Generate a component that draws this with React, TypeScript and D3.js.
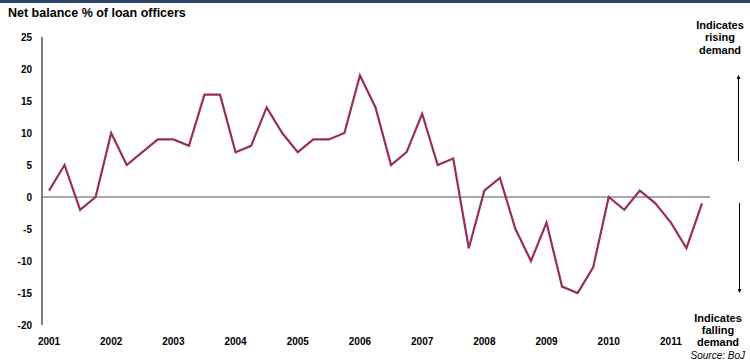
import React from "react";
import * as d3 from "d3";

const years = ["2001","2002","2003","2004","2005","2006","2007","2008","2009","2010","2011"];
const values = [
  1, 5, -2, 0,
  10, 5, 7, 9,
  9, 8, 16, 16,
  7, 8, 14, 10,
  7, 9, 9, 10,
  19, 14, 5, 7,
  13, 5, 6, -8,
  1, 3, -5, -10,
  -4, -14, -15, -11,
  0, -2, 1, -1,
  -4, -8, -1,
];
const yTicks = [25, 20, 15, 10, 5, 0, -5, -10, -15, -20];

export default function App() {
  const W = 750, H = 362;
  const x = d3.scaleLinear().domain([0, 42]).range([49, 702]);
  const y = d3.scaleLinear().domain([-20, 25]).range([325, 37]);
  const line = d3.line<number>().x((_, i) => x(i)).y((d) => y(d));
  const font = "Liberation Sans, Arial, sans-serif";
  return (
    <svg width={W} height={H} style={{ position: "absolute", left: 0, top: 0, background: "#fff" }} fontFamily={font}>
      <rect x={0} y={0} width={W} height={3} fill="#2b4570" />
      <text x={8} y={17} fontSize={12.5} fontWeight="bold" fill="#000">Net balance % of loan officers</text>
      <line x1={42} x2={42} y1={y(25)} y2={y(-20)} stroke="#000" strokeWidth={1} />
      <line x1={42} x2={710} y1={y(0)} y2={y(0)} stroke="#555" strokeWidth={1.2} />
      {yTicks.map((t) => (
        <text key={t} x={32} y={y(t) + 3.5} fontSize={10} fontWeight="bold" textAnchor="end">{t}</text>
      ))}
      {years.map((yr, i) => (
        <text key={yr} x={x(i * 4)} y={345} fontSize={10} fontWeight="bold" textAnchor="middle">{yr}</text>
      ))}
      <path d={line(values) || ""} fill="none" stroke="#962e62" strokeWidth={2.2} strokeLinejoin="miter" />
      <defs>
        <marker id="ah" viewBox="0 0 6 6" refX={3} refY={3} markerWidth={4} markerHeight={4} orient="auto">
          <path d="M0,0 L6,3 L0,6 z" fill="#000" />
        </marker>
      </defs>
      <line x1={738.5} x2={738.5} y1={161} y2={77} stroke="#000" strokeWidth={1} markerEnd="url(#ah)" />
      <line x1={739.5} x2={739.5} y1={203} y2={291} stroke="#000" strokeWidth={1} markerEnd="url(#ah)" />
      <g fontSize={11} fontWeight="bold" textAnchor="middle">
        <text x={720} y={29}>Indicates</text>
        <text x={720} y={41}>rising</text>
        <text x={720} y={54}>demand</text>
        <text x={718} y={322}>Indicates</text>
        <text x={718} y={334}>falling</text>
        <text x={718} y={346}>demand</text>
      </g>
      <text x={745} y={359} fontSize={10} fontStyle="italic" textAnchor="end">Source: BoJ</text>
    </svg>
  );
}
